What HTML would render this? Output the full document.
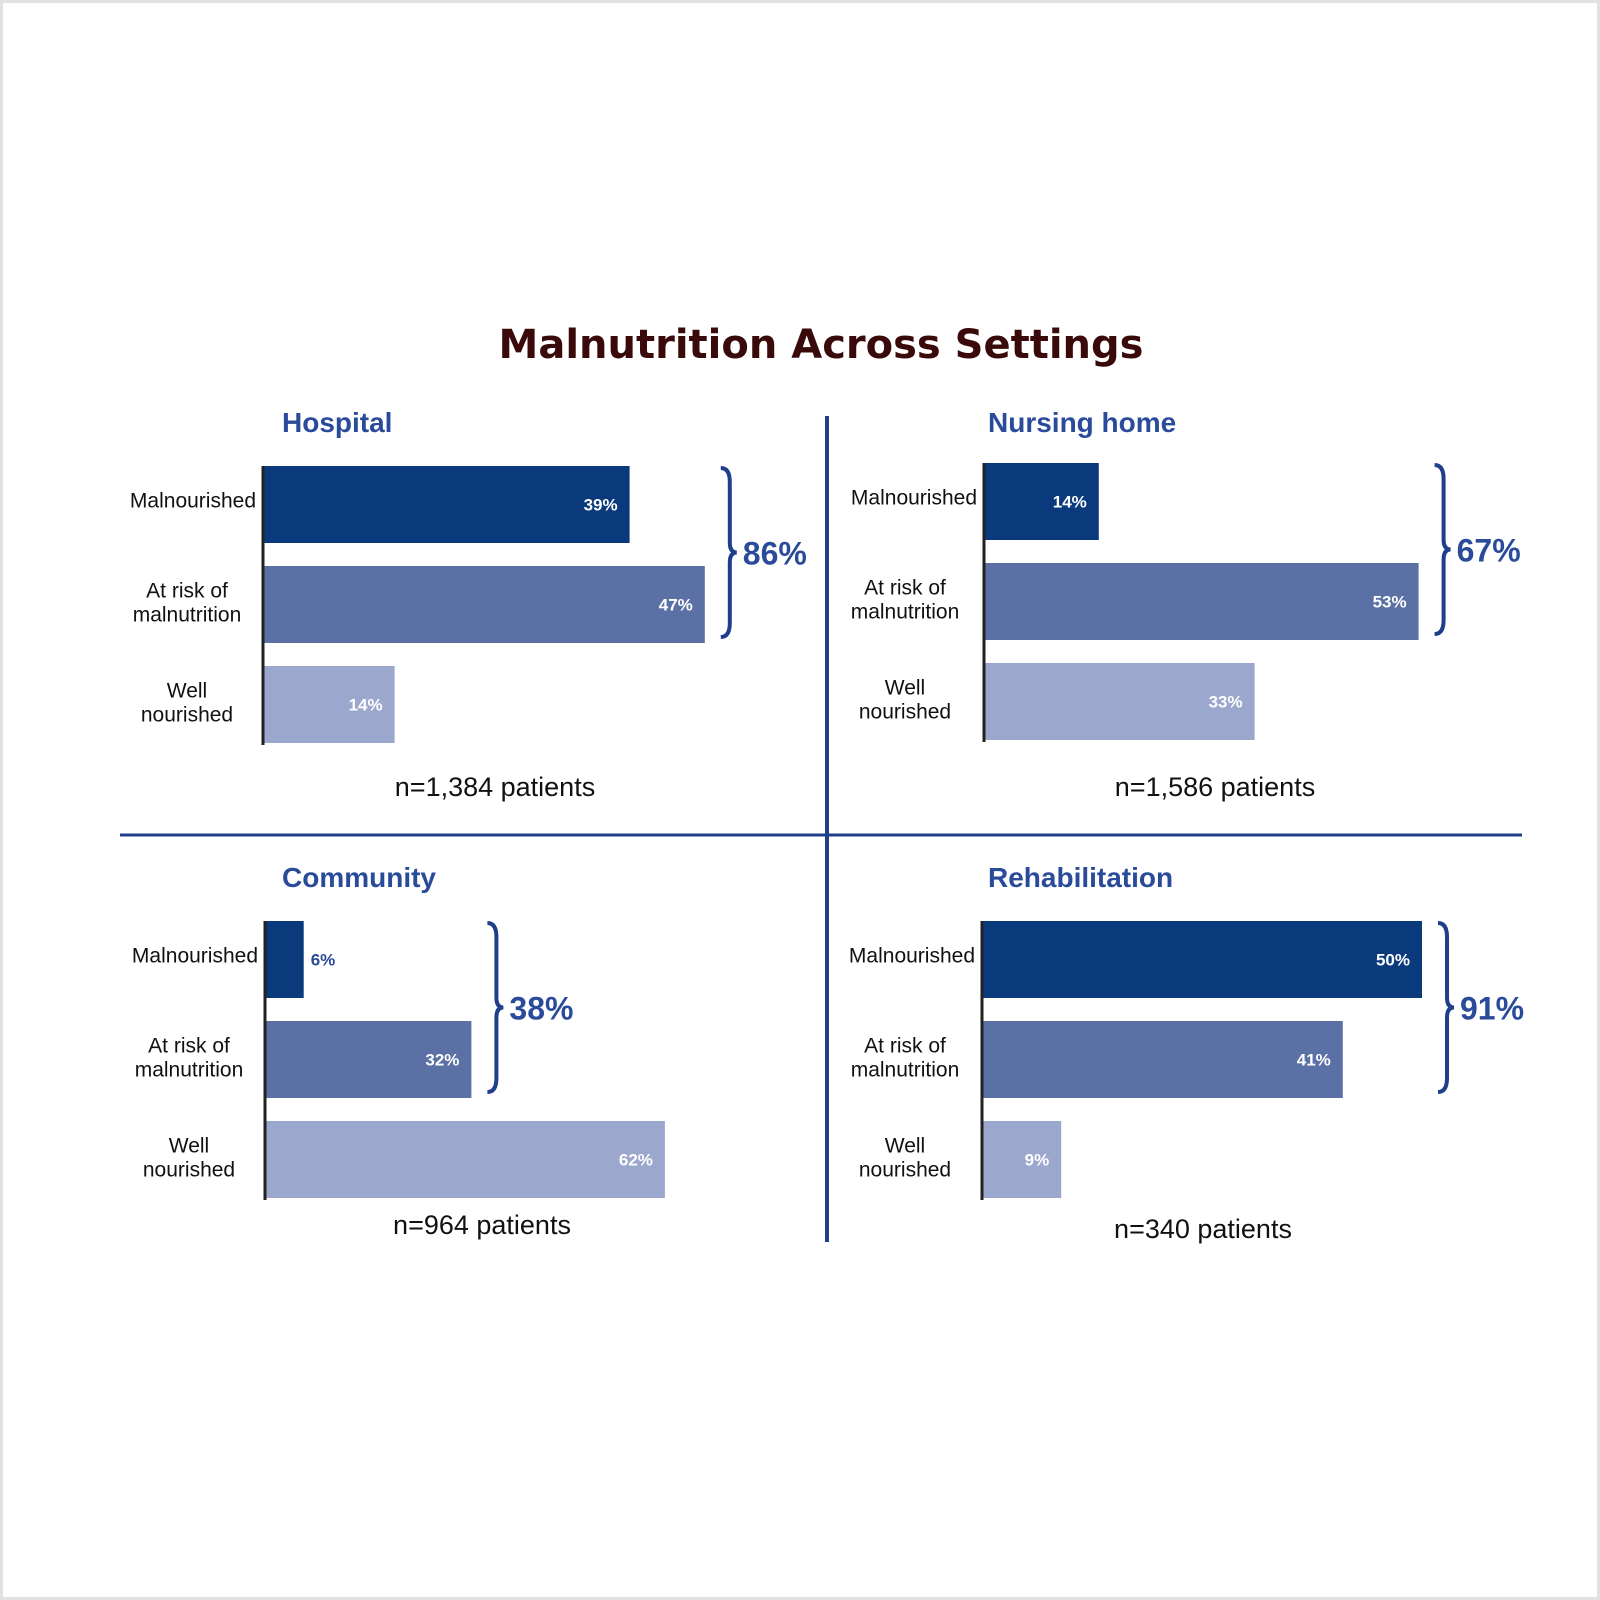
<!DOCTYPE html>
<html><head><meta charset="utf-8"><style>
html,body{margin:0;padding:0;background:#fff}
svg{display:block}
</style></head><body>
<svg id="chart" width="1600" height="1600" viewBox="0 0 1600 1600" xmlns="http://www.w3.org/2000/svg">
<rect x="1.5" y="1.5" width="1597" height="1597" fill="#fff" stroke="#e2e2e2" stroke-width="3"/>
<text x="821" y="358" text-anchor="middle" font-family="DejaVu Sans, sans-serif" font-weight="bold" font-size="40" fill="#3a0a0a">Malnutrition Across Settings</text>
<line x1="827" y1="416" x2="827" y2="1242" stroke="#1f3f8a" stroke-width="4"/>
<line x1="120" y1="835" x2="1522" y2="835" stroke="#1f3f8a" stroke-width="3"/>
<g id="panels"></g>
</svg>
<script>
const settings = ["Hospital", "Nursing home", "Community", "Rehabilitation"];
const categories = ["Malnourished", "At risk of|malnutrition", "Well|nourished"];
const hospitalValues = [39, 47, 14];
const nursingValues = [14, 53, 33];
const communityValues = [6, 32, 62];
const rehabValues = [50, 41, 9];
const totals = ["86%", "67%", "38%", "91%"];
const sampleLabels = ["n=1,384 patients", "n=1,586 patients", "n=964 patients", "n=340 patients"];

const allValues = [hospitalValues, nursingValues, communityValues, rehabValues];
const layout = [
  {ax:263, top:466, scale:9.4, titleX:282, titleY:432, nX:495, nY:796, labX:187},
  {ax:984, top:463, scale:8.2, titleX:988, titleY:432, nX:1215, nY:796, labX:905},
  {ax:265, top:921, scale:6.45, titleX:282, titleY:887, nX:482, nY:1234, labX:189},
  {ax:982, top:921, scale:8.8, titleX:988, titleY:887, nX:1203, nY:1238, labX:905}
];
const colors = ["#0b3a7c", "#5b70a5", "#9ba7cc"];
const NS = "http://www.w3.org/2000/svg";
const root = document.getElementById("panels");
function mk(tag, attrs, parent){const e=document.createElementNS(NS,tag);for(const k in attrs)e.setAttribute(k,attrs[k]);parent.appendChild(e);return e;}
const BH = 77, PITCH = 100;
settings.forEach((name, p) => {
  const L = layout[p], vals = allValues[p];
  const xs = v => L.ax + v * L.scale;
  const ys = i => L.top + i * PITCH;
  const g = mk("g", {}, root);
  
  
  const t = mk("text", {x:L.titleX, y:L.titleY, "font-family":"Liberation Sans, sans-serif", "font-weight":"bold", "font-size":"28", fill:"#2a4a9a"}, g);
  t.textContent = name;
  
  
  vals.forEach((v, i) => {
    const r = mk("rect", {x:L.ax, y:ys(i), width:xs(v)-L.ax, height:BH, fill:colors[i]}, g);
    
    
    const inside = (xs(v)-L.ax) > 60;
    const vl = mk("text", {x: inside ? xs(v)-12 : xs(v)+7, y: ys(i)+BH/2+6, "text-anchor": inside ? "end" : "start", "font-family":"Liberation Sans, sans-serif", "font-weight":"bold", "font-size":"17", fill: inside ? "#fff" : "#2a4a9a"}, g);
    vl.textContent = v + "%";
    
    
    const parts = categories[i].split('|');
    const cl = mk("text", {"font-family":"Liberation Sans, sans-serif", "font-size":"21", fill:"#111"}, g);
    
    
    if (parts.length === 1) {
      cl.setAttribute("x", L.ax-7); cl.setAttribute("y", ys(i)+BH/2+3); cl.setAttribute("text-anchor","end");
      cl.textContent = parts[0];
    } else {
      cl.setAttribute("text-anchor","middle");
      parts.forEach((s, k) => { const ts = mk("tspan", {x:L.labX, y: ys(i)+BH/2 - 7 + k*24}, cl); ts.textContent = s; });
    }
  });
  // axis line
  const a = mk("line", {x1:L.ax, y1:L.top, x2:L.ax, y2:ys(2)+BH+2, stroke:"#222", "stroke-width":"3"}, g);
  
  
  // brace
  const bx = Math.max(xs(vals[0]), xs(vals[1])) + 16;
  const y0 = ys(0)+2, y1 = ys(1)+BH-6, ym = (y0+y1)/2;
  const d = `M${bx} ${y0} Q${bx+9} ${y0} ${bx+9} ${y0+14} L${bx+9} ${ym-10} Q${bx+9} ${ym} ${bx+16} ${ym} Q${bx+9} ${ym} ${bx+9} ${ym+10} L${bx+9} ${y1-14} Q${bx+9} ${y1} ${bx} ${y1}`;
  const br = mk("path", {d:d, fill:"none", stroke:"#1f3f8a", "stroke-width":"4"}, g);
  
  
  const tt = mk("text", {x:bx+22, y:ym+12, "font-family":"Liberation Sans, sans-serif", "font-weight":"bold", "font-size":"32", fill:"#2a4a9a"}, g);
  tt.textContent = totals[p];
  
  
  const n = mk("text", {x:L.nX, y:L.nY, "text-anchor":"middle", "font-family":"Liberation Sans, sans-serif", "font-size":"27", fill:"#111"}, g);
  n.textContent = sampleLabels[p];
  
  
});
</script>
</body></html>
